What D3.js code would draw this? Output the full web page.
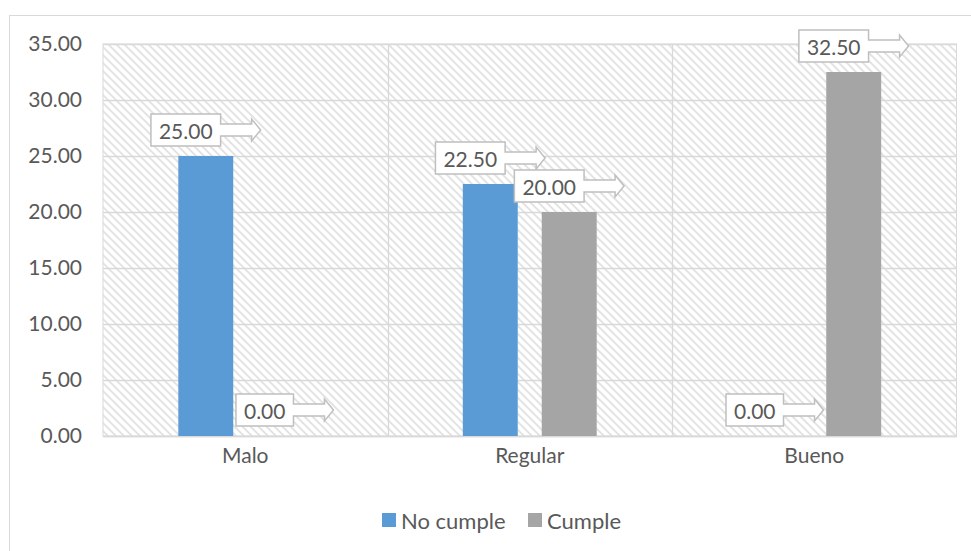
<!DOCTYPE html>
<html><head><meta charset="utf-8">
<script src="https://cdn.jsdelivr.net/npm/d3@7"></script>
<style>html,body{margin:0;padding:0;background:#fff;}svg{display:block;font-family:Lato,"Open Sans",sans-serif;}</style>
</head><body>
<svg id="c" width="971" height="551"></svg>
<script>
const categories = ["Malo", "Regular", "Bueno"];
const seriesNames = ["No cumple", "Cumple"];
const noCumple = [25.00, 22.50, 0.00];
const cumple = [0.00, 20.00, 32.50];
const yTicks = [0, 5, 10, 15, 20, 25, 30, 35];
const colors = ["#5B9BD5", "#A5A5A5"];

const svg = d3.select("#c");
const plot = {left: 103, right: 956.5, top: 44, bottom: 436};
const fontSize = 21;
const textColor = "#595959";

// outer chart border
svg.append("rect").attr("x", 9.5).attr("y", 15.5).attr("width", 1000).attr("height", 600)
  .attr("fill", "#fff").attr("stroke", "#D9D9D9").attr("stroke-width", 1);

// hatch pattern
const defs = svg.append("defs");
const pat = defs.append("pattern").attr("id", "hatch").attr("patternUnits", "userSpaceOnUse")
  .attr("width", 8).attr("height", 8);
pat.append("rect").attr("width", 8).attr("height", 8).attr("fill", "#fff");
pat.append("path").attr("d", "M-2,-2 L10,10 M-2,6 L2,10 M6,-2 L10,2")
  .attr("stroke", "#E2E2E2").attr("stroke-width", 1.9);

const x0 = d3.scaleBand().domain(categories).range([plot.left, plot.right]).padding(0);
const x1 = d3.scaleBand().domain(seriesNames).range([0, x0.bandwidth()])
  .paddingInner(0.304).paddingOuter(0.954);
const y = d3.scaleLinear().domain([0, 35]).range([plot.bottom, plot.top]);

svg.append("rect").attr("x", plot.left).attr("y", plot.top)
  .attr("width", plot.right - plot.left).attr("height", plot.bottom - plot.top)
  .attr("fill", "url(#hatch)").attr("stroke", "#D9D9D9").attr("stroke-width", 1);

// horizontal gridlines
svg.append("g").selectAll("line").data(yTicks).join("line")
  .attr("x1", plot.left).attr("x2", plot.right)
  .attr("y1", d => Math.round(y(d)) + 0.5).attr("y2", d => Math.round(y(d)) + 0.5)
  .attr("stroke", "#D9D9D9").attr("stroke-width", 1.3);
// vertical category separators
const seps = categories.slice(1).map(c => x0(c));
svg.append("g").selectAll("line").data(seps).join("line")
  .attr("x1", d => Math.round(d) + 0.5).attr("x2", d => Math.round(d) + 0.5)
  .attr("y1", plot.top).attr("y2", plot.bottom)
  .attr("stroke", "#D9D9D9").attr("stroke-width", 1.3);

// y axis via d3.axisLeft
const yAxis = svg.append("g").attr("transform", `translate(${plot.left - 21},0)`)
  .call(d3.axisLeft(y).tickValues(yTicks).tickFormat(d3.format(".2f")).tickSize(0).tickPadding(0));
yAxis.select(".domain").remove();
yAxis.selectAll("text").attr("font-size", fontSize).attr("fill", textColor)
  .attr("font-family", "Lato, sans-serif");

// x axis
const xAxis = svg.append("g").attr("transform", `translate(0,${plot.bottom})`)
  .call(d3.axisBottom(x0).tickSize(0).tickPadding(12));
xAxis.select(".domain").attr("stroke", "#D9D9D9").attr("stroke-width", 1.5);
xAxis.selectAll("text").attr("font-size", fontSize).attr("fill", textColor)
  .attr("font-family", "Lato, sans-serif");

// bars
const data = categories.map((c, i) => ({cat: c, vals: [
  {s: seriesNames[0], v: noCumple[i], color: colors[0]},
  {s: seriesNames[1], v: cumple[i], color: colors[1]}]}));

const groups = svg.append("g").selectAll("g").data(data).join("g")
  .attr("transform", d => `translate(${x0(d.cat)},0)`);
groups.selectAll("rect").data(d => d.vals).join("rect")
  .attr("x", d => x1(d.s)).attr("width", x1.bandwidth())
  .attr("y", d => y(d.v)).attr("height", d => y(0) - y(d.v))
  .attr("fill", d => d.color);

// callout labels
const labels = svg.append("g");
data.forEach(d => {
  d.vals.forEach(v => {
    const cx = x0(d.cat) + x1(v.s) + x1.bandwidth() / 2;
    const g = labels.append("g");
    const t = g.append("text").text(d3.format(".2f")(v.v))
      .attr("font-size", fontSize).attr("fill", textColor)
      .attr("font-family", "Lato, sans-serif");
    const tw = t.node().getComputedTextLength();
    const padX = 8, bh = 32, shaft = 31, head = 9, sh = 6, hh = 11;
    const bw = tw + 2 * padX;
    const total = bw + shaft + head;
    const bx = cx - total / 2;
    const bottom = y(v.v) - 10;
    const by = bottom - bh;
    const cy = by + bh / 2;
    const r = bx + bw;
    const p = [
      [bx, by], [r, by], [r, cy - sh], [r + shaft, cy - sh], [r + shaft, cy - hh],
      [r + shaft + head, cy], [r + shaft, cy + hh], [r + shaft, cy + sh], [r, cy + sh],
      [r, by + bh], [bx, by + bh]
    ];
    g.insert("path", "text").attr("d", "M" + p.map(q => q.join(",")).join("L") + "Z")
      .attr("fill", "#fff").attr("stroke", "#BFBFBF").attr("stroke-width", 1.5)
      .attr("stroke-linejoin", "miter");
    t.attr("x", bx + padX).attr("y", cy).attr("dominant-baseline", "central");
  });
});

// legend
const legend = svg.append("g");
const legItems = [{name: seriesNames[0], color: colors[0], x: 382}, {name: seriesNames[1], color: colors[1], x: 528}];
legItems.forEach(it => {
  legend.append("rect").attr("x", it.x).attr("y", 513).attr("width", 14).attr("height", 14).attr("fill", it.color);
  legend.append("text").attr("x", it.x + 19).attr("y", 520).attr("dominant-baseline", "central")
    .attr("font-size", 22).attr("fill", textColor).attr("font-family", "Lato, sans-serif").text(it.name);
});
</script>
</body></html>
